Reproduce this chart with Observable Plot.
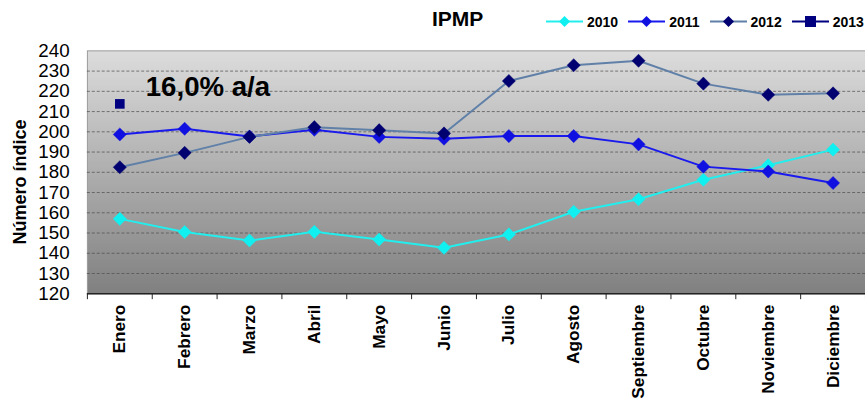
<!DOCTYPE html>
<html>
<head>
<meta charset="utf-8">
<script src="https://cdn.jsdelivr.net/npm/d3@7"></script>
<script src="https://cdn.jsdelivr.net/npm/@observablehq/plot@0.6"></script>
<style>
  html, body { margin: 0; padding: 0; background: #fff; overflow: hidden; }
  #wrap { position: relative; width: 865px; height: 406px; overflow: hidden; font-family: "Liberation Sans", Arial, sans-serif; }
  #title { position: absolute; left: 432px; top: 7px; font-size: 21px; font-weight: bold; color: #000; }
  #legend { position: absolute; left: 546px; top: 13px; display: flex; align-items: center; font-size: 14px; font-weight: bold; color: #000; white-space: nowrap; }
  #legend .item { display: flex; align-items: center; margin-right: 10px; }
  #legend svg { margin-right: 4px; }
  #chart { position: absolute; left: 0; top: 0; }
  #ylabel { position: absolute; left: 20px; top: 182px; transform: translate(-50%, -50%) rotate(-90deg); font-size: 18px; font-weight: bold; color: #000; white-space: nowrap; }
</style>
</head>
<body>
<div id="wrap">
  <div id="chart"></div>
  <div id="title">IPMP</div>
  <div id="legend"></div>
  <div id="ylabel"></div>
</div>
<svg width="0" height="0" style="position:absolute">
  <defs>
    <linearGradient id="bg" x1="0" y1="0" x2="0" y2="1">
      <stop offset="0" stop-color="#dcdcdc"/>
      <stop offset="1" stop-color="#808080"/>
    </linearGradient>
  </defs>
</svg>
<script>
const months = ["Enero","Febrero","Marzo","Abril","Mayo","Junio","Julio","Agosto","Septiembre","Octubre","Noviembre","Diciembre"];
const years = ["2010","2011","2012","2013"];
const v2010 = [157.0, 150.5, 146.3, 150.6, 146.8, 142.7, 149.3, 160.5, 166.7, 176.3, 183.5, 191.2];
const v2011 = [198.7, 201.5, 197.7, 201.0, 197.5, 196.6, 197.9, 197.9, 193.8, 182.8, 180.4, 174.7];
const v2012 = [182.5, 189.6, 197.5, 202.3, 200.8, 199.2, 225.1, 232.9, 235.1, 223.8, 218.3, 219.0];
const v2013 = [213.8];
const yTicks = [120,130,140,150,160,170,180,190,200,210,220,230,240];
const gridTicks = [130,140,150,160,170,180,190,200,210,220,230];
const annotation = "16,0% a/a";
const yLabel = "Número índice";
const titleText = "IPMP";

const lineColors = {"2010": "#22eeee", "2011": "#1a1aee", "2012": "#6080a8", "2013": "#000080"};
const dotColors = {"2010": "#11f0f0", "2011": "#1010e0", "2012": "#000070", "2013": "#000080"};

const toRows = (vals, year) => vals.map((v, i) => ({i, month: months[i], value: v, year}));
const r2010 = toRows(v2010, "2010");
const r2011 = toRows(v2011, "2011");
const r2012 = toRows(v2012, "2012");
const r2013 = toRows(v2013, "2013");

const font = "Liberation Sans, Arial, sans-serif";
const xc = d => d.i + 0.5;

const seriesMarks = [];
for (const [rows, y] of [[r2010,"2010"],[r2011,"2011"],[r2012,"2012"]]) {
  seriesMarks.push(Plot.line(rows, {x: xc, y: "value", stroke: lineColors[y], strokeWidth: 2}));
  seriesMarks.push(Plot.dot(rows, {x: xc, y: "value", symbol: "diamond2", r: 6, fill: dotColors[y], stroke: dotColors[y], strokeWidth: 0.5}));
}
seriesMarks.push(Plot.dot(r2013, {x: xc, y: "value", symbol: "square", r: 5.5, fill: dotColors["2013"]}));

const chart = Plot.plot({
  width: 876,
  height: 406,
  marginLeft: 88,
  marginRight: 0,
  marginTop: 51,
  marginBottom: 109,
  style: {fontFamily: font, background: "transparent", color: "#000"},
  x: {type: "linear", domain: [0, 12], axis: null},
  y: {domain: [120, 240], axis: null},
  marks: [
    Plot.frame({fill: "url(#bg)", stroke: "#9a9a9a"}),
    Plot.ruleY(gridTicks, {stroke: "#505050", strokeDasharray: "3,2", strokeOpacity: 0.75}),
    Plot.ruleY([120], {stroke: "#222", strokeWidth: 1.5}),
    Plot.axisY({ticks: yTicks, tickSize: 0, tickPadding: 18, fontSize: 19, label: null, tickFormat: d => String(d)}),
    Plot.axisX({ticks: d3.range(0, 13), tickSize: 6, tickFormat: () => "", stroke: "#222", label: null}),
    Plot.axisX({ticks: months.map((m, i) => i + 0.5), tickSize: 0, tickPadding: 11, tickRotate: -90, fontSize: 17.5, fontWeight: "bold", label: null, tickFormat: d => months[Math.floor(d)]}),
    ...seriesMarks,
    Plot.text([annotation], {x: 0.9, y: 222.3, text: d => d, textAnchor: "start", fontSize: 28, fontWeight: "bold", fill: "#000"})
  ]
});
document.getElementById("chart").appendChild(chart);
document.getElementById("ylabel").textContent = yLabel;
document.getElementById("title").textContent = titleText;

// legend
const legend = document.getElementById("legend");
for (const y of years) {
  const item = document.createElement("div");
  item.className = "item";
  const sym = y === "2013"
    ? `<rect x="13" y="3" width="11" height="11" fill="${dotColors[y]}"/>`
    : `<path d="M18.5,3 L24,8.5 L18.5,14 L13,8.5 Z" fill="${dotColors[y]}"/>`;
  item.innerHTML = `<svg width="37" height="17"><line x1="0" x2="37" y1="8.5" y2="8.5" stroke="${lineColors[y]}" stroke-width="2"/>${sym}</svg><span>${y}</span>`;
  legend.appendChild(item);
}
</script>
</body>
</html>
